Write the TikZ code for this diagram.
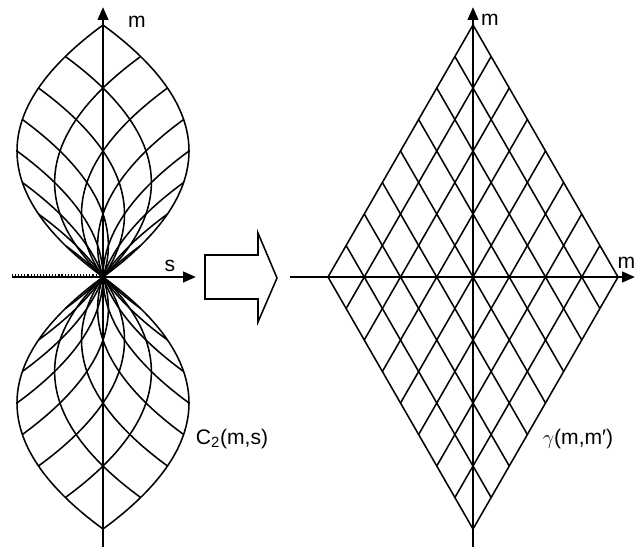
\documentclass[tikz,border=0pt]{standalone}
\usepackage{fontspec}
\setmainfont{Liberation Sans}
\usepackage{tikz}
\usetikzlibrary{arrows.meta, calc, positioning}

\tikzset{
  gitter/.style={line width=1.1pt, black},
  achse/.style={line width=1.8pt, black, -{Triangle[length=3.2mm, width=2.6mm]}},
  etikett/.style={font=\fontsize{15}{18}\selectfont, inner sep=1pt}
}

\begin{document}
\begin{tikzpicture}[x=0.025cm, y=0.025cm]
      \useasboundingbox (0,0) rectangle (635,549);

      % --- LINKS: verzerrtes Gitter C_2(m,s), s = m * m' ---
      \foreach \c in {-1,-0.75,...,1} {
        \pgfmathsetmacro\mlo{(\c-1)/2}
        \pgfmathsetmacro\mhi{(\c+1)/2}
        \draw[gitter] plot[smooth, samples=40, domain=\mlo:\mhi, variable=\m]
          ({103+344*\m*(\c-\m)}, {272+252*\m});
        \draw[gitter] plot[smooth, samples=40, domain=\mlo:\mhi, variable=\m]
          ({103-344*\m*(\c-\m)}, {272+252*\m});
      }

      % --- RECHTS: Rautengitter gamma(m,m') ---
      \foreach \c in {-1,-0.75,...,1} {
        \pgfmathsetmacro\mlo{(\c-1)/2}
        \pgfmathsetmacro\mhi{(\c+1)/2}
        \draw[gitter] ({473+145*(\c-\mhi)}, {272+252*\mhi}) -- ({473+145*(\c-\mlo)}, {272+252*\mlo});
        \draw[gitter] ({473-145*(\c-\mhi)}, {272+252*\mhi}) -- ({473-145*(\c-\mlo)}, {272+252*\mlo});
      }

      % Achsen links
      \coordinate (lunten) at (103,2);
      \coordinate (loben) at (103,542);
      \coordinate (llinks) at (12,272);
      \coordinate (lrechts) at (196,272);
      \draw[achse] (lunten) -- (loben);
      \draw[achse] (llinks) -- (lrechts);
      \draw[line width=1.4pt, dash pattern=on 0.8pt off 1.4pt] ($(llinks)+(0,1.6)$) -- ($(lrechts)+(-94,1.6)$);

      % Achsen rechts
      \coordinate (runten) at (473,2);
      \coordinate (roben) at (473,542);
      \coordinate (rlinks) at (290,272);
      \coordinate (rrechts) at (635,272);
      \draw[achse] (runten) -- (roben);
      \draw[achse] (rlinks) -- (rrechts);

      % Hohlpfeil
      \draw[line width=1.1pt, line join=miter] (205,294) -- (258,294) -- (258,316) -- (277,271)
        -- (258,227) -- (258,250) -- (205,250) -- cycle;

      % Beschriftungen
      \node[etikett] (lm) at (137,527) {m};
      \node[etikett] (ls) at (170,283) {s};
      \node[etikett] (rm) at (490,529) {m};
      \node[etikett, anchor=west] (rmm) at (616,286) {m};
      \node[etikett] (cname) at (232,110) {C\textsubscript{2}(m,s)};
      \node[etikett] (gname) at (578,110) {$\gamma$(m,m′)};
    \end{tikzpicture}
\end{document}
